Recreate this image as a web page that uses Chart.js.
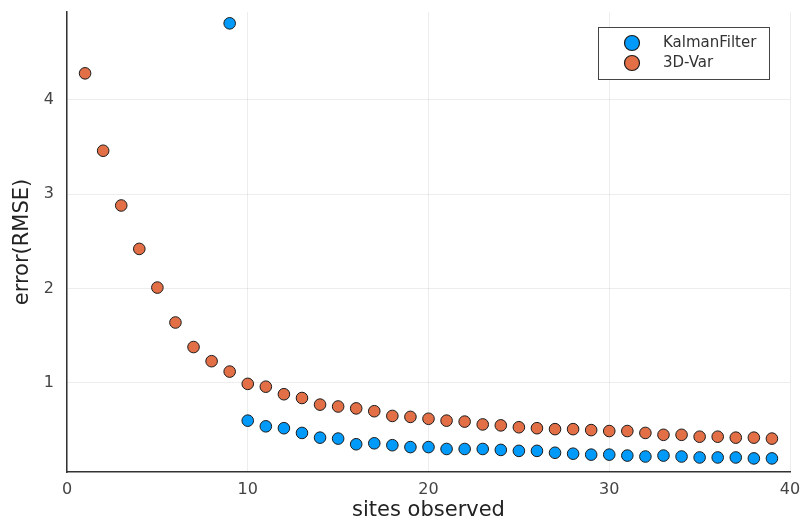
<!DOCTYPE html>
<html>
<head>
<meta charset="utf-8">
<script src="https://cdn.jsdelivr.net/npm/chart.js@4.4.0/dist/chart.umd.min.js"></script>
<style>
  html, body { margin: 0; padding: 0; background: #fff; }
  #wrap { width: 801px; height: 523px; }
</style>
</head>
<body>
<div id="wrap"><canvas id="grafico"></canvas></div>
<script>
// sites observed (x)
const sites = [1,2,3,4,5,6,7,8,9,10,11,12,13,14,15,16,17,18,19,20,21,22,23,24,25,26,27,28,29,30,31,32,33,34,35,36,37,38,39];

// RMSE, KalmanFilter (first 8 out of range / missing)
const kalman = [null,null,null,null,null,null,null,null,4.81,
  0.60,0.54,0.52,0.47,0.42,0.41,0.35,0.36,0.34,0.32,0.32,0.30,0.30,0.30,0.29,
  0.28,0.28,0.26,0.25,0.24,0.24,0.23,0.22,0.23,0.22,0.21,0.21,0.21,0.20,0.20];

// RMSE, 3D-Var
const var3d = [4.28,3.46,2.88,2.42,2.01,1.64,1.38,1.23,1.12,
  0.99,0.96,0.88,0.84,0.77,0.75,0.73,0.70,0.65,0.64,0.62,0.60,0.59,0.56,0.55,
  0.53,0.52,0.51,0.51,0.50,0.49,0.49,0.47,0.45,0.45,0.43,0.43,0.42,0.42,0.41];

const xTicks = [0, 10, 20, 30, 40];
const yTicks = [1, 2, 3, 4];

const toPoints = (ys) => sites.map((x, i) => ({ x: x, y: ys[i] }));

// zera o padding automatico das escalas, a area fica so pelo layout.padding
const semPadding = (s) => {
  s.paddingTop = 0; s.paddingBottom = 0; s.paddingLeft = 0; s.paddingRight = 0;
};

// legend box drawn by hand, like the Plots.jl one
const legendaCaixa = {
  id: 'legendaCaixa',
  afterDraw(chart) {
    const ctx = chart.ctx;
    const x0 = 598, y0 = 27, w = 171, h = 52;
    ctx.save();
    ctx.fillStyle = '#fff';
    ctx.fillRect(x0, y0, w, h);
    ctx.strokeStyle = '#444';
    ctx.lineWidth = 1;
    ctx.strokeRect(x0 + 0.5, y0 + 0.5, w, h);
    chart.data.datasets.forEach((ds, i) => {
      const cy = y0 + 16 + i * 20;
      ctx.beginPath();
      ctx.arc(632, cy, 7.5, 0, Math.PI * 2);
      ctx.fillStyle = ds.backgroundColor;
      ctx.fill();
      ctx.strokeStyle = '#1a1a1a';
      ctx.lineWidth = 1.2;
      ctx.stroke();
      ctx.fillStyle = '#333';
      ctx.font = '15px "DejaVu Sans"';
      ctx.textBaseline = 'middle';
      ctx.fillText(ds.label, 663, cy);
    });
    ctx.restore();
  }
};

const config = {
  type: 'scatter',
  data: {
    datasets: [
      {
        label: 'KalmanFilter',
        data: toPoints(kalman),
        backgroundColor: '#009AFA',
        borderColor: '#1a1a1a',
        borderWidth: 1,
        pointRadius: 5.8,
      },
      {
        label: '3D-Var',
        data: toPoints(var3d),
        backgroundColor: '#E36F47',
        borderColor: '#1a1a1a',
        borderWidth: 1,
        pointRadius: 5.8,
      }
    ]
  },
  options: {
    responsive: false,
    animation: false,
    layout: { padding: { top: 12, right: 11, left: 0, bottom: 0 } },
    plugins: {
      legend: { display: false },
      tooltip: { enabled: false }
    },
    scales: {
      x: {
        type: 'linear',
        min: 0,
        max: 40,
        afterBuildTicks: (s) => { s.ticks = xTicks.map(v => ({ value: v })); },
        afterFit: (s) => { s.height = 51; semPadding(s); },
        grid: { color: 'rgba(0,0,0,0.07)', drawTicks: false },
        border: { display: true, color: '#333', width: 1.5 },
        ticks: { color: '#444', padding: 8, font: { family: 'DejaVu Sans', size: 16 } },
        title: { display: true, text: 'sites observed', color: '#222', font: { family: 'DejaVu Sans', size: 21 }, padding: { top: 2, bottom: 0 } }
      },
      y: {
        type: 'linear',
        min: 0.056,
        max: 4.93,
        afterBuildTicks: (s) => { s.ticks = yTicks.map(v => ({ value: v })); },
        afterFit: (s) => { s.width = 67; semPadding(s); },
        grid: { color: 'rgba(0,0,0,0.07)', drawTicks: false },
        border: { display: true, color: '#333', width: 1.5 },
        ticks: { color: '#444', padding: 13, font: { family: 'DejaVu Sans', size: 16 } },
        title: { display: true, text: 'error(RMSE)', color: '#222', font: { family: 'DejaVu Sans', size: 21 }, padding: { top: 10, bottom: 4 } }
      }
    }
  },
  plugins: [legendaCaixa]
};

const cv = document.getElementById('grafico');
cv.width = 801;
cv.height = 523;
window.grafico = new Chart(cv.getContext('2d'), config);
</script>
</body>
</html>
